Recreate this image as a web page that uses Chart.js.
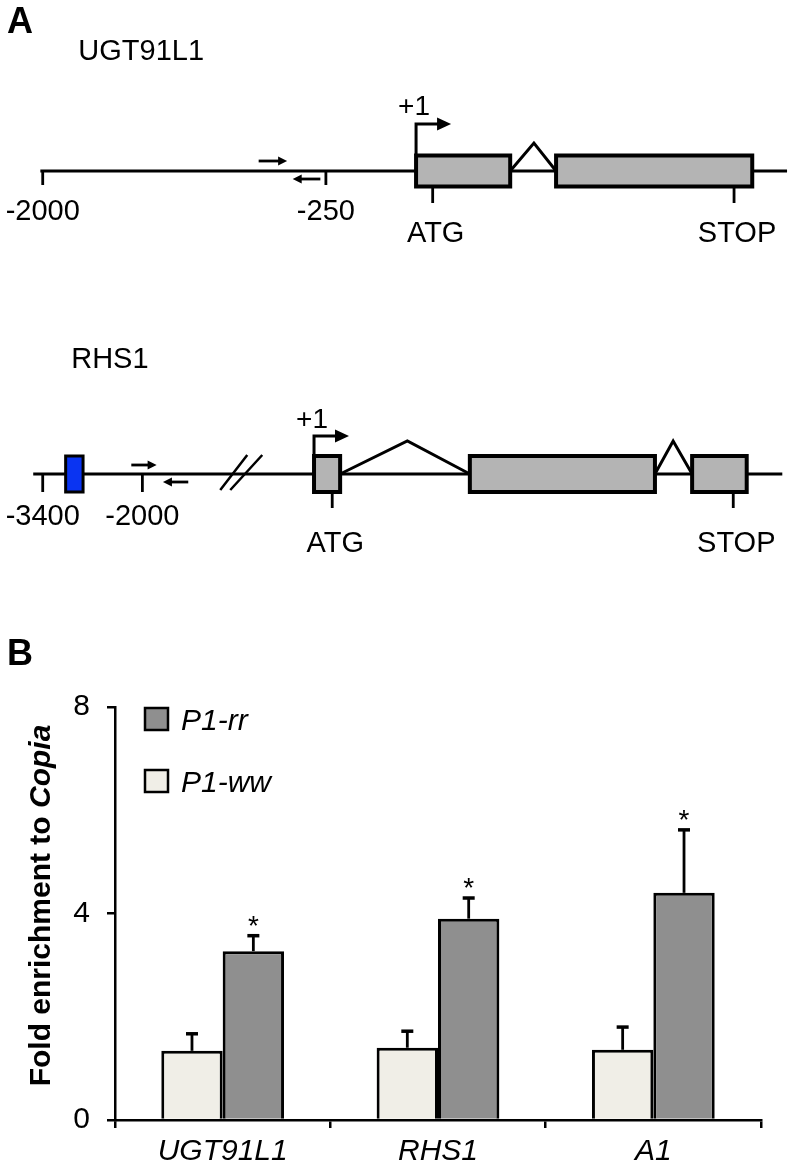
<!DOCTYPE html>
<html>
<head>
<meta charset="utf-8">
<script src="https://cdn.jsdelivr.net/npm/chart.js@4.4.0/dist/chart.umd.min.js"></script>
<style>
	html, body { margin: 0; padding: 0; background: #fff; }
	body { width: 791px; height: 1166px; position: relative; overflow: hidden; }
	canvas { position: absolute; left: 0; }
	#geneMap { top: 0; }
	#enrichment { top: 600px; }
</style>
</head>
<body>
<canvas id="geneMap" width="791" height="600"></canvas>
<canvas id="enrichment" width="791" height="566"></canvas>
<script>
//// panel A data: gene models, schematic units 0-1000 across the page
const geneNames = ['UGT91L1', 'RHS1'];
const trackLevel = [1, 0];
const backbone = [[51, 995], [42, 989]];
const exons = [
	[[526, 645], [703, 951]],
	[[397, 430], [594, 828], [875, 944]],
];
const intronApex = [[675], [515, 851]];
const tss = [526, 397];
const startCodon = [547, 420];
const stopCodon = [928, 927];
const coordTicks = [[54, 412], [54, 180]];
const coordLabels = [['-2000', '-250'], ['-3400', '-2000']];
const primerFwd = [[327, 363], [166, 198]];
const primerRev = [[370, 405], [206, 238]];
const breakMarks = [[], [305]];
const enhancerBoxes = [[], [[83, 105]]];

//// panel B data: fold enrichment
const categories = ['UGT91L1', 'RHS1', 'A1'];
const ww = [1.34, 1.40, 1.36];
const wwErr = [0.33, 0.32, 0.44];
const rr = [3.27, 3.90, 4.40];
const rrErr = [0.30, 0.40, 1.22];
const rrMarks = ['*', '*', '*'];
const yTicks = [0, 4, 8];

const FONT = '"Liberation Sans", Arial, sans-serif';

// per-track drawing style (pixels)
const trackStyle = [
	{ exonHalf: 15.5, tick: 14, coordLabel: 49, cdsTick: 32, cdsLabel: 71, tssRise: 47, plusY: -56, intronRise: 28, nameY: -111, fwdY: -10, revY: 8 },
	{ exonHalf: 18, tick: 18, coordLabel: 51, cdsTick: 34, cdsLabel: 78, tssRise: 38, plusY: -46, intronRise: 33, nameY: -106, fwdY: -9, revY: 8 },
];

function arrowHead(ctx, x, y, dir, len, half) {
	ctx.beginPath();
	ctx.moveTo(x + dir * len, y);
	ctx.lineTo(x, y - half);
	ctx.lineTo(x, y + half);
	ctx.closePath();
	ctx.fill();
}

const geneModels = {
	id: 'geneModels',
	afterDatasetsDraw(chart) {
		const ctx = chart.ctx;
		const px = v => chart.scales.x.getPixelForValue(v);
		ctx.save();
		ctx.strokeStyle = '#000';
		ctx.fillStyle = '#000';
		ctx.lineCap = 'butt';

		// panel letter
		ctx.font = 'bold 36px ' + FONT;
		ctx.textAlign = 'left';
		ctx.textBaseline = 'alphabetic';
		ctx.fillText('A', 7, 33);

		geneNames.forEach((name, i) => {
			const st = trackStyle[i];
			const y0 = chart.scales.y.getPixelForValue(trackLevel[i]);

			ctx.fillStyle = '#000';
			ctx.font = '29px ' + FONT;
			ctx.textAlign = 'left';
			ctx.fillText(name, px(backbone[i][0]) + 38, y0 + st.nameY);

			// coordinate ticks
			ctx.lineWidth = 2.8;
			ctx.textAlign = 'center';
			coordTicks[i].forEach((t, k) => {
				ctx.beginPath();
				ctx.moveTo(px(t), y0);
				ctx.lineTo(px(t), y0 + st.tick);
				ctx.stroke();
				ctx.fillText(coordLabels[i][k], px(t), y0 + st.coordLabel);
			});

			// primers
			ctx.lineWidth = 2.8;
			const f = primerFwd[i], r = primerRev[i];
			ctx.beginPath();
			ctx.moveTo(px(f[0]), y0 + st.fwdY);
			ctx.lineTo(px(f[1]) - 8, y0 + st.fwdY);
			ctx.stroke();
			arrowHead(ctx, px(f[1]) - 9, y0 + st.fwdY, 1, 9, 4.5);
			ctx.beginPath();
			ctx.moveTo(px(r[1]), y0 + st.revY);
			ctx.lineTo(px(r[0]) + 8, y0 + st.revY);
			ctx.stroke();
			arrowHead(ctx, px(r[0]) + 9, y0 + st.revY, -1, 9, 4.5);

			// break marks
			ctx.lineWidth = 2.5;
			breakMarks[i].forEach(b => {
				const c = px(b);
				ctx.beginPath();
				ctx.moveTo(c - 21, y0 + 16);
				ctx.lineTo(c + 6, y0 - 19);
				ctx.moveTo(c - 11, y0 + 16);
				ctx.lineTo(c + 21, y0 - 19);
				ctx.stroke();
			});

			// enhancer (blue) boxes
			enhancerBoxes[i].forEach(b => {
				ctx.fillStyle = '#0a34f2';
				ctx.fillRect(px(b[0]), y0 - st.exonHalf, px(b[1]) - px(b[0]), st.exonHalf * 2);
				ctx.lineWidth = 3;
				ctx.strokeRect(px(b[0]), y0 - st.exonHalf, px(b[1]) - px(b[0]), st.exonHalf * 2);
			});

			// introns
			ctx.lineWidth = 3;
			ctx.lineJoin = 'miter';
			intronApex[i].forEach((a, k) => {
				ctx.beginPath();
				ctx.moveTo(px(exons[i][k][1]), y0);
				ctx.lineTo(px(a), y0 - st.intronRise);
				ctx.lineTo(px(exons[i][k + 1][0]), y0);
				ctx.stroke();
			});

			// exons
			exons[i].forEach(e => {
				ctx.fillStyle = '#b4b4b4';
				ctx.fillRect(px(e[0]), y0 - st.exonHalf, px(e[1]) - px(e[0]), st.exonHalf * 2);
				ctx.lineWidth = 4;
				ctx.strokeRect(px(e[0]), y0 - st.exonHalf, px(e[1]) - px(e[0]), st.exonHalf * 2);
			});

			// ATG / STOP
			ctx.fillStyle = '#000';
			ctx.lineWidth = 2.8;
			[[startCodon[i], 'ATG'], [stopCodon[i], 'STOP']].forEach(([pos, lab]) => {
				ctx.beginPath();
				ctx.moveTo(px(pos), y0 + st.exonHalf);
				ctx.lineTo(px(pos), y0 + st.cdsTick);
				ctx.stroke();
				ctx.fillText(lab, px(pos) + 3, y0 + st.cdsLabel);
			});

			// transcription start
			const t = px(tss[i]);
			ctx.lineWidth = 3;
			ctx.beginPath();
			ctx.moveTo(t, y0 - st.exonHalf);
			ctx.lineTo(t, y0 - st.tssRise);
			ctx.lineTo(t + 22, y0 - st.tssRise);
			ctx.stroke();
			arrowHead(ctx, t + 21, y0 - st.tssRise, 1, 14, 6.5);
			ctx.font = '28px ' + FONT;
			ctx.fillText('+1', t - 2, y0 + st.plusY);
		});
		ctx.restore();
	},
};

new Chart(document.getElementById('geneMap'), {
	type: 'scatter',
	data: {
		datasets: geneNames.map((g, i) => ({
			label: g,
			data: backbone[i].map(v => ({ x: v, y: trackLevel[i] })),
			showLine: true,
			clip: false,
			borderColor: '#000',
			borderWidth: 3,
			pointRadius: 0,
		})),
	},
	options: {
		responsive: false,
		animation: false,
		layout: { padding: { left: 0, right: 0, top: 171, bottom: 126 } },
		plugins: { legend: { display: false }, tooltip: { enabled: false } },
		scales: {
			x: { type: 'linear', min: 0, max: 1000, display: false },
			y: { type: 'linear', min: 0, max: 1, display: false },
		},
	},
	plugins: [geneModels],
});

//// panel B
const errorBars = {
	id: 'errorBars',
	afterDatasetsDraw(chart) {
		const ctx = chart.ctx;
		const ys = chart.scales.y;
		ctx.save();
		ctx.strokeStyle = '#000';
		ctx.fillStyle = '#000';
		chart.data.datasets.forEach((ds, di) => {
			chart.getDatasetMeta(di).data.forEach((bar, i) => {
				const top = ys.getPixelForValue(ds.data[i] + ds.err[i]);
				ctx.lineWidth = 2.8;
				ctx.beginPath();
				ctx.moveTo(bar.x, bar.y);
				ctx.lineTo(bar.x, top);
				ctx.stroke();
				ctx.lineWidth = 3.5;
				ctx.beginPath();
				ctx.moveTo(bar.x - 6, top);
				ctx.lineTo(bar.x + 6, top);
				ctx.stroke();
				if (ds.marks && ds.marks[i]) {
					ctx.font = '28px ' + FONT;
					ctx.textAlign = 'center';
					ctx.textBaseline = 'alphabetic';
					ctx.fillText(ds.marks[i], bar.x, top - 1);
				}
			});
		});
		ctx.restore();
	},
};

const legendBox = {
	id: 'legendBox',
	afterDraw(chart) {
		const ctx = chart.ctx;
		const area = chart.chartArea;
		const order = [1, 0];
		ctx.save();
		order.forEach((di, r) => {
			const ds = chart.data.datasets[di];
			const x = area.left + 30;
			const y = area.top + 1 + r * 62;
			ctx.fillStyle = ds.backgroundColor;
			ctx.fillRect(x, y, 23, 22);
			ctx.lineWidth = 2.5;
			ctx.strokeStyle = '#000';
			ctx.strokeRect(x, y, 23, 22);
			ctx.fillStyle = '#000';
			ctx.font = 'italic 30px ' + FONT;
			ctx.textAlign = 'left';
			ctx.textBaseline = 'alphabetic';
			ctx.fillText(ds.label, x + 36, y + 22);
		});
		ctx.restore();
	},
};

const axisTitle = {
	id: 'axisTitle',
	afterDraw(chart) {
		const ctx = chart.ctx;
		const area = chart.chartArea;
		ctx.save();
		ctx.fillStyle = '#000';
		ctx.font = 'bold 36px ' + FONT;
		ctx.textAlign = 'left';
		ctx.textBaseline = 'alphabetic';
		ctx.fillText('B', 7, 65);

		const part1 = 'Fold enrichment to ';
		const part2 = 'Copia';
		const f1 = 'bold 30px ' + FONT;
		const f2 = 'italic bold 30px ' + FONT;
		ctx.font = f1;
		const w1 = ctx.measureText(part1).width;
		ctx.font = f2;
		const w2 = ctx.measureText(part2).width;
		ctx.translate(50, (area.top + area.bottom) / 2 - 8);
		ctx.rotate(-Math.PI / 2);
		const start = -(w1 + w2) / 2;
		ctx.font = f1;
		ctx.fillText(part1, start, 0);
		ctx.font = f2;
		ctx.fillText(part2, start + w1, 0);
		ctx.restore();
	},
};

new Chart(document.getElementById('enrichment'), {
	type: 'bar',
	data: {
		labels: categories,
		datasets: [
			{
				label: 'P1-ww',
				data: ww,
				err: wwErr,
				backgroundColor: '#f0eee7',
				borderColor: '#000',
				borderWidth: 3,
			},
			{
				label: 'P1-rr',
				data: rr,
				err: rrErr,
				marks: rrMarks,
				backgroundColor: '#8f8f8f',
				borderColor: '#000',
				borderWidth: 3,
			},
		],
	},
	options: {
		responsive: false,
		animation: false,
		layout: { padding: { left: 0, right: 30, top: 107, bottom: 0 } },
		plugins: { legend: { display: false }, tooltip: { enabled: false } },
		datasets: { bar: { categoryPercentage: 0.57, barPercentage: 1 } },
		scales: {
			x: {
				grid: { offset: true, drawOnChartArea: false, tickLength: 8, color: '#000', lineWidth: 2.5 },
				border: { display: true, color: '#000', width: 2.5 },
				ticks: { font: { family: FONT, size: 30, style: 'italic' }, color: '#000', padding: 6 },
				afterFit: s => { s.height = 46; },
			},
			y: {
				min: 0,
				max: 8,
				afterBuildTicks: s => { s.ticks = yTicks.map(v => ({ value: v })); },
				grid: { drawOnChartArea: false, tickLength: 8, color: '#000', lineWidth: 2.5 },
				border: { display: true, color: '#000', width: 2.5 },
				ticks: { font: { family: FONT, size: 30 }, color: '#000', padding: 17 },
				afterFit: s => { s.width = 115; },
			},
		},
	},
	plugins: [errorBars, legendBox, axisTitle],
});
</script>
</body>
</html>
